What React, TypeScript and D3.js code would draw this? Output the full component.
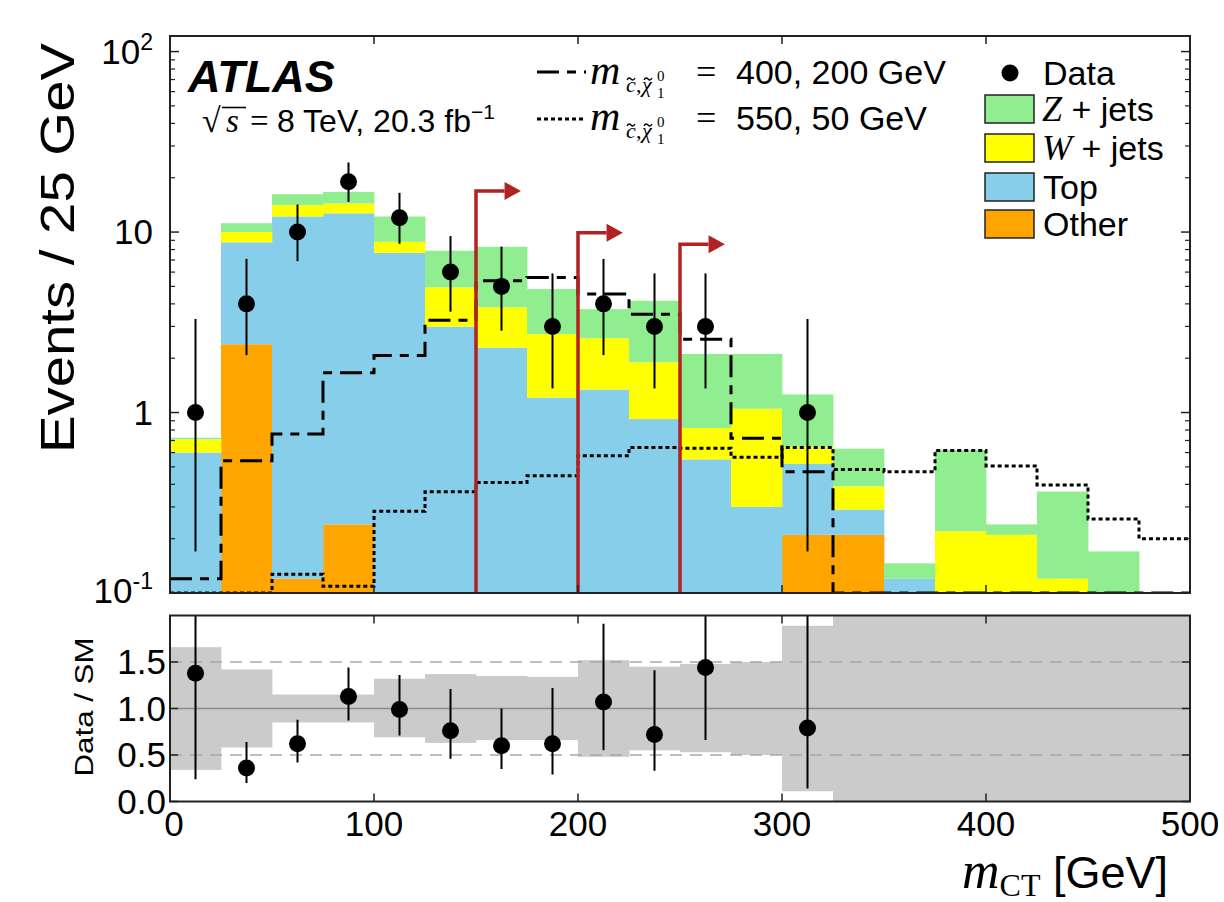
import React from 'react';
import * as d3 from 'd3';

// bins of 25 GeV in m_CT
const binLow = [0, 25, 50, 75, 100, 125, 150, 175, 200, 225, 250, 275, 300, 325, 350, 375, 400, 425, 450, 475];
const binWidth = 25;

// stacked backgrounds (events per bin), bottom to top
const otherBkg = [0, 2.39, 0.12, 0.24, 0, 0, 0, 0, 0, 0, 0, 0, 0.21, 0.21, 0, 0, 0, 0, 0, 0];
const topBkg = [0.6, 6.38, 12.08, 12.46, 7.67, 2.99, 2.29, 1.21, 1.34, 0.92, 0.55, 0.3, 0.31, 0.08, 0.12, 0, 0, 0, 0, 0];
const wJets = [0.11, 1.23, 1.9, 1.7, 1.16, 1.95, 1.54, 1.51, 1.24, 0.98, 0.27, 0.75, 0.13, 0.1, 0, 0.22, 0.21, 0.12, 0, 0];
const zJets = [0.015, 1.2, 2.1, 2.3, 3.37, 2.94, 4.46, 2.11, 1.16, 2.26, 1.29, 1.06, 0.61, 0.24, 0.026, 0.4, 0.03, 0.245, 0.17, 0];

// signal models
const signal400 = [0.12, 0.54, 0.76, 1.66, 2.07, 3.25, 5.37, 5.6, 4.53, 3.5, 2.55, 0.72, 0.47, 0.01, 0.01, 0.01, 0.01, 0.01, 0.01, 0.01];
const signal550 = [0.1, 0.1, 0.127, 0.109, 0.284, 0.364, 0.409, 0.447, 0.576, 0.641, 0.633, 0.565, 0.64, 0.484, 0.47, 0.617, 0.506, 0.397, 0.257, 0.2];

// data with asymmetric errors
const dataCounts = [1, 4, 10, 19, 12, 6, 5, 3, 4, 3, 3, 0, 1, 0, 0, 0, 0, 0, 0, 0];
const dataLow = [0.17, 2.08, 6.9, 14.7, 8.6, 3.62, 2.84, 1.36, 2.08, 1.36, 1.36, 0, 0.17, 0, 0, 0, 0, 0, 0, 0];
const dataHigh = [3.3, 7.1, 14.2, 24.3, 16.5, 9.5, 8.3, 5.9, 7.1, 5.9, 5.9, 0, 3.3, 0, 0, 0, 0, 0, 0, 0];

// ratio panel
const ratioVal = [1.38, 0.36, 0.62, 1.13, 0.99, 0.76, 0.6, 0.62, 1.07, 0.72, 1.44, 0, 0.79];
const ratioLow = [0.24, 0.2, 0.42, 0.87, 0.71, 0.46, 0.35, 0.29, 0.55, 0.33, 0.66, 0, 0.14];
const ratioHigh = [4.6, 0.64, 0.88, 1.44, 1.36, 1.21, 1.0, 1.22, 1.91, 1.41, 2.8, 0, 2.6];
const bandLow = [0.34, 0.58, 0.85, 0.85, 0.69, 0.63, 0.66, 0.66, 0.48, 0.55, 0.53, 0.5, 0.11, 0, 0, 0, 0, 0, 0, 0];
const bandHigh = [1.66, 1.42, 1.15, 1.15, 1.32, 1.37, 1.35, 1.34, 1.52, 1.45, 1.48, 1.5, 1.89, 2.5, 2.5, 2.5, 2.5, 2.5, 2.5, 2.5];

// m_CT thresholds of the signal regions (arrow start, arrow height in events)
const cutValues = [150, 200, 250];
const cutArrowHeights = [16.9, 9.9, 8.55];

const xTicks = [0, 100, 200, 300, 400, 500];
const yMajor = [0.1, 1, 10, 100];
const ratioTicks = [0, 0.5, 1.0, 1.5];

const processes = [
  { key: 'other', color: '#ffa500', label: 'Other' },
  { key: 'top', color: '#87ceeb', label: 'Top' },
  { key: 'w', color: '#ffff00', label: 'W' },
  { key: 'z', color: '#90ee90', label: 'Z' },
];

const SANS = 'Liberation Sans, Arial, Helvetica, sans-serif';
const SERIF = 'Liberation Serif, DejaVu Serif, serif';
const RED = '#b22222';
const DASH400 = '22,8,9,8';
const DOT550 = '4,3';

const x = d3.scaleLinear().domain([0, 500]).range([170, 1190]);
const y = d3.scaleLog().domain([0.1, 122]).range([593, 36]).clamp(true);
const yr = d3.scaleLinear().domain([0, 2]).range([801.5, 615.5]);

// small tilde accent drawn as a path
const tilde = (cx: number, ty: number) =>
  `M${cx - 4},${ty + 1} C${cx - 2.5},${ty - 2} ${cx - 1},${ty - 1} ${cx},${ty} S${cx + 2.5},${ty + 2} ${cx + 4},${ty - 1}`;

// m_{c~,chi~^0_1} = value
const MassLabel: React.FC<{ x0: number; base: number; value: string }> = ({ x0, base, value }) => (
  <g fill="#000">
    <text x={x0} y={base} fontFamily={SERIF} fontStyle="italic" fontSize={42}>m</text>
    <text x={x0 + 36} y={base + 8} fontFamily={SERIF} fontStyle="italic" fontSize={22}>c</text>
    <text x={x0 + 46} y={base + 8} fontFamily={SERIF} fontSize={22}>,</text>
    <text x={x0 + 52} y={base + 8} fontFamily={SERIF} fontStyle="italic" fontSize={22}>{'\u03c7'}</text>
    <path d={tilde(x0 + 41, base - 5)} fill="none" stroke="#000" strokeWidth={1.3} />
    <path d={tilde(x0 + 58, base - 5)} fill="none" stroke="#000" strokeWidth={1.3} />
    <text x={x0 + 67} y={base - 3} fontFamily={SERIF} fontSize={15}>0</text>
    <text x={x0 + 67} y={base + 14} fontFamily={SERIF} fontSize={15}>1</text>
    <text x={x0 + 106} y={base} fontFamily={SERIF} fontSize={36}>=</text>
    <text x={x0 + 146} y={base} fontFamily={SANS} fontSize={34}>{value}</text>
  </g>
);

export default function App() {
  const rows = binLow.map((_, i) => ({ other: otherBkg[i], top: topBkg[i], w: wJets[i], z: zJets[i] }));
  const stacked = d3.stack<any>().keys(processes.map(p => p.key))(rows);

  const stepLine = d3.line<[number, number]>()
    .x(d => x(d[0]))
    .y(d => y(d[1]))
    .curve(d3.curveStepAfter);
  const stepPts = (vals: number[]) => {
    const pts: [number, number][] = binLow.map((b, i) => [b, vals[i]]);
    pts.push([500, vals[vals.length - 1]]);
    return pts;
  };

  const minor: number[] = [];
  [0.1, 1, 10].forEach(dec => [2, 3, 4, 5, 6, 7, 8, 9].forEach(k => minor.push(k * dec)));

  const left = x(0), right = x(500);

  return (
    <svg width={1224} height={902} style={{ position: 'absolute', left: 0, top: 0, background: '#fff' }}>
      <defs>
        <clipPath id="mainClip"><rect x={left} y={36} width={right - left} height={557} /></clipPath>
        <clipPath id="ratioClip"><rect x={left} y={615.5} width={right - left} height={186} /></clipPath>
      </defs>
      <rect width={1224} height={902} fill="#fff" />

      {/* ---------- main panel ---------- */}
      <g clipPath="url(#mainClip)">
        {stacked.map((series, si) => (
          <g key={processes[si].key} fill={processes[si].color}>
            {series.map((d, i) => {
              if (d[1] - d[0] <= 0) return null;
              const y0 = y(Math.max(d[0], 0.1));
              const y1 = y(d[1]);
              return (
                <rect key={i} x={x(binLow[i])} width={x(binLow[i] + binWidth) - x(binLow[i]) + 0.4}
                  y={y1} height={Math.max(0, y0 - y1)} />
              );
            })}
          </g>
        ))}
        <path d={stepLine(stepPts(signal400)) || ''} fill="none" stroke="#000" strokeWidth={3} strokeDasharray={DASH400} />
        <path d={stepLine(stepPts(signal550)) || ''} fill="none" stroke="#000" strokeWidth={3} strokeDasharray={DOT550} />

        {cutValues.map((c, i) => {
          const xs = x(c), ys = y(cutArrowHeights[i]);
          const xe = x(c + 14), xh = x(c + 22);
          return (
            <g key={c}>
              <path d={`M${xs},${y(0.1)}V${ys}H${xe}`} fill="none" stroke={RED} strokeWidth={3.5} />
              <path d={`M${xe},${ys - 9}L${xh},${ys}L${xe},${ys + 9}Z`} fill={RED} />
            </g>
          );
        })}

        {dataCounts.map((n, i) => n > 0 ? (
          <g key={i}>
            <line x1={x(binLow[i] + 12.5)} x2={x(binLow[i] + 12.5)} y1={y(dataLow[i])} y2={y(dataHigh[i])} stroke="#000" strokeWidth={2} />
            <circle cx={x(binLow[i] + 12.5)} cy={y(n)} r={8.5} fill="#000" />
          </g>
        ) : null)}
      </g>

      {/* main frame and ticks */}
      <rect x={left} y={36} width={right - left} height={557} fill="none" stroke="#222" strokeWidth={2} />
      {xTicks.map(t => (
        <g key={t} stroke="#222" strokeWidth={1.5}>
          <line x1={x(t)} x2={x(t)} y1={593} y2={585} />
          <line x1={x(t)} x2={x(t)} y1={36} y2={44} />
        </g>
      ))}
      {yMajor.map(t => (
        <g key={t} stroke="#222" strokeWidth={1.5}>
          <line x1={left} x2={left + 9} y1={y(t)} y2={y(t)} />
          <line x1={right} x2={right - 9} y1={y(t)} y2={y(t)} />
        </g>
      ))}
      {minor.map(t => (
        <g key={t} stroke="#222" strokeWidth={1.2}>
          <line x1={left} x2={left + 5} y1={y(t)} y2={y(t)} />
          <line x1={right} x2={right - 5} y1={y(t)} y2={y(t)} />
        </g>
      ))}
      <g fontFamily={SANS} fontSize={35} textAnchor="end" fill="#000">
        <text x={153} y={y(100) + 12}>10<tspan fontSize={23} dy={-14}>2</tspan></text>
        <text x={153} y={y(10) + 12}>10</text>
        <text x={153} y={y(1) + 12}>1</text>
        <text x={153} y={y(0.1) + 10}>10<tspan fontSize={23} dy={-14}>-1</tspan></text>
      </g>
      <text transform="translate(74,248) rotate(-90)" textAnchor="middle" fontFamily={SANS} fontSize={48}
        textLength={410} lengthAdjust="spacingAndGlyphs">Events / 25 GeV</text>

      {/* ATLAS label */}
      <text x={188} y={92} fontFamily={SANS} fontSize={45} fontWeight="bold" fontStyle="italic">ATLAS</text>
      <text x={202} y={132} fontFamily={SERIF} fontSize={34}>{'\u221a'}</text>
      <line x1={222} x2={246} y1={107.5} y2={107.5} stroke="#000" strokeWidth={1.6} />
      <text x={226} y={132} fontFamily={SERIF} fontStyle="italic" fontSize={33}>s</text>
      <text x={250} y={132} fontFamily={SERIF} fontSize={33}>=</text>
      <text x={277} y={132} fontFamily={SANS} fontSize={32}>8 TeV, 20.3 fb<tspan fontSize={21} dy={-13}>{'\u22121'}</tspan></text>

      {/* signal legend */}
      <line x1={537} x2={586} y1={72} y2={72} stroke="#000" strokeWidth={3} strokeDasharray={DASH400} />
      <line x1={537} x2={586} y1={119} y2={119} stroke="#000" strokeWidth={3} strokeDasharray={DOT550} />
      <MassLabel x0={590} base={84} value="400, 200 GeV" />
      <MassLabel x0={590} base={130} value="550, 50 GeV" />

      {/* background legend */}
      <circle cx={1010} cy={73} r={8.5} fill="#000" />
      <text x={1043} y={85} fontFamily={SANS} fontSize={34}>Data</text>
      {[processes[3], processes[2], processes[1], processes[0]].map((p, i) => {
        const top = [95, 134, 173, 210][i];
        return (
          <g key={p.key}>
            <rect x={985} y={top} width={49} height={28} fill={p.color} stroke="#222" strokeWidth={1.5} />
            {p.key === 'z' || p.key === 'w' ? (
              <text x={1042} y={top + 26}>
                <tspan fontFamily={SERIF} fontStyle="italic" fontSize={36}>{p.label}</tspan>
                <tspan fontFamily={SANS} fontSize={34}> + jets</tspan>
              </text>
            ) : (
              <text x={1043} y={top + 26} fontFamily={SANS} fontSize={34}>{p.label}</text>
            )}
          </g>
        );
      })}

      {/* ---------- ratio panel ---------- */}
      <g clipPath="url(#ratioClip)">
        {binLow.map((b, i) => (
          <rect key={b} x={x(b)} width={x(b + binWidth) - x(b) + 0.4} y={yr(bandHigh[i])}
            height={yr(bandLow[i]) - yr(bandHigh[i])} fill="#cbcbcb" />
        ))}
        <line x1={left} x2={right} y1={yr(1)} y2={yr(1)} stroke="#8c8c8c" strokeWidth={1.5} />
        {[0.5, 1.5].map(v => (
          <line key={v} x1={left} x2={right} y1={yr(v)} y2={yr(v)} stroke="#a8a8a8" strokeWidth={1.5} strokeDasharray="12,8" />
        ))}
        {ratioVal.map((r, i) => r > 0 ? (
          <g key={i}>
            <line x1={x(binLow[i] + 12.5)} x2={x(binLow[i] + 12.5)} y1={yr(ratioLow[i])} y2={yr(ratioHigh[i])} stroke="#000" strokeWidth={2} />
            <circle cx={x(binLow[i] + 12.5)} cy={yr(r)} r={8.5} fill="#000" />
          </g>
        ) : null)}
      </g>
      <rect x={left} y={615.5} width={right - left} height={186} fill="none" stroke="#222" strokeWidth={2} />
      {xTicks.map(t => (
        <g key={t} stroke="#222" strokeWidth={1.5}>
          <line x1={x(t)} x2={x(t)} y1={801.5} y2={793.5} />
          <line x1={x(t)} x2={x(t)} y1={615.5} y2={623.5} />
        </g>
      ))}
      {ratioTicks.map(t => (
        <g key={t} stroke="#222" strokeWidth={1.5}>
          <line x1={left} x2={left + 8} y1={yr(t)} y2={yr(t)} />
          <line x1={right} x2={right - 8} y1={yr(t)} y2={yr(t)} />
        </g>
      ))}
      <g fontFamily={SANS} fontSize={35} textAnchor="end">
        {ratioTicks.map(t => (
          <text key={t} x={166} y={yr(t) + 12}>{d3.format('.1f')(t)}</text>
        ))}
      </g>
      <text transform="translate(93,707) rotate(-90)" textAnchor="middle" fontFamily={SANS} fontSize={26}
        textLength={139} lengthAdjust="spacingAndGlyphs">Data / SM</text>

      <g fontFamily={SANS} fontSize={35} textAnchor="middle">
        {xTicks.map(t => (
          <text key={t} x={x(t) + (t === 0 ? 4 : 0)} y={836}>{t}</text>
        ))}
      </g>
      <text x={1168} y={888} textAnchor="end">
        <tspan fontFamily={SERIF} fontStyle="italic" fontSize={52}>m</tspan>
        <tspan fontFamily={SERIF} fontSize={32} dy={8}>CT</tspan>
        <tspan fontFamily={SANS} fontSize={45} dy={-8}> [GeV]</tspan>
      </text>
    </svg>
  );
}
